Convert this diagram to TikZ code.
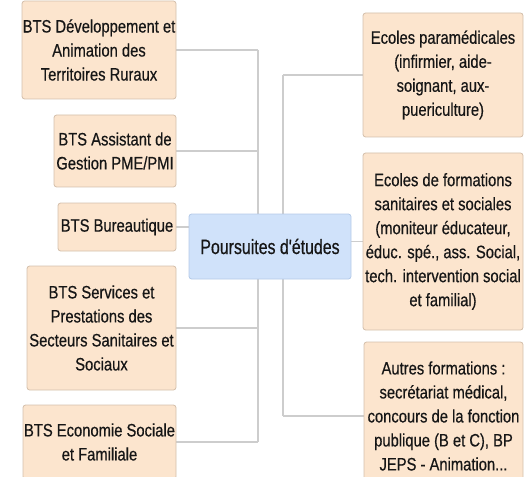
\documentclass[tikz,border=0pt]{standalone}
\usepackage{fontspec}
\setmainfont{Liberation Sans}[FakeStretch=0.82,FakeBold=0.5,Ligatures=TeXOff]
\newfontfamily\cfont{Liberation Sans}[FakeStretch=0.77,FakeBold=0.5,Ligatures=TeXOff]
\usetikzlibrary{backgrounds}
\definecolor{boxfill}{RGB}{252,229,206}
\definecolor{boxline}{RGB}{212,192,172}
\definecolor{cfill}{RGB}{208,226,250}
\definecolor{cline}{RGB}{180,202,232}
\definecolor{linkcol}{RGB}{205,205,205}
\definecolor{txt}{RGB}{22,22,22}
\begin{document}
\begin{tikzpicture}[x=0.75pt,y=-0.75pt,
  box/.style={draw=boxline, line width=0.6pt, fill=boxfill, rounded corners=2pt, align=center, inner sep=0pt, text=txt, font=\fontsize{13.5}{18}\selectfont},
  cbox/.style={draw=cline, line width=0.6pt, fill=cfill, rounded corners=2pt, align=center, inner sep=0pt, text=txt, font=\cfont\fontsize{15.5}{18}\selectfont},
  link/.style={draw=linkcol, line width=1.1pt}]
\clip (0,0) rectangle (527,477);
\useasboundingbox (0,0) rectangle (527,477);
\coordinate (lx) at (258,0);
\coordinate (rx) at (283,0);
\node[box, minimum width=115.5pt, minimum height=73.5pt] (l1) at (99,50) {BTS Développement et\\Animation des\\Territoires Ruraux};
\node[box, minimum width=91.5pt, minimum height=54pt] (l2) at (115,151) {BTS Assistant de\\Gestion PME/PMI};
\node[box, minimum width=88.5pt, minimum height=36pt] (l3) at (117,227) {BTS Bureautique};
\node[box, minimum width=111.75pt, minimum height=93pt] (l4) at (101.5,328) {BTS Services et\\Prestations des\\Secteurs Sanitaires et\\Sociaux};
\node[box, minimum width=114.75pt, minimum height=55.5pt] (l5) at (99.5,442) {BTS Economie Sociale\\et Familiale};
\node[cbox, minimum width=121.5pt, minimum height=48.75pt] (c) at (270,246.5) {Poursuites d'études};
\node[box, minimum width=120pt, minimum height=93pt] (r1) at (443,75) {Ecoles paramédicales\\(infirmier, aide-\\soignant, aux-\\puericulture)};
\node[box, minimum width=120pt, minimum height=132.75pt] (r2) at (443,241.5) {Ecoles de formations\\sanitaires et sociales\\(moniteur éducateur,\\éduc. spé., ass. Social,\\tech. intervention social\\et familial)};
\node[box, minimum width=119.25pt, minimum height=111pt] (r3) at (443.5,416) {Autres formations :\\secrétariat médical,\\concours de la fonction\\publique (B et C), BP\\JEPS - Animation...};
\begin{scope}[on background layer]
  \foreach \n in {l1,l2,l3,l4,l5} {\draw[link] (\n.east) -- (\n.east -| lx);}
  \draw[link] (l1.east -| lx) -- (l5.east -| lx);
  \foreach \n in {r1,r2,r3} {\draw[link] (\n.west) -- (\n.west -| rx);}
  \draw[link] (r1.west -| rx) -- (r3.west -| rx);
\end{scope}
\end{tikzpicture}
\end{document}
